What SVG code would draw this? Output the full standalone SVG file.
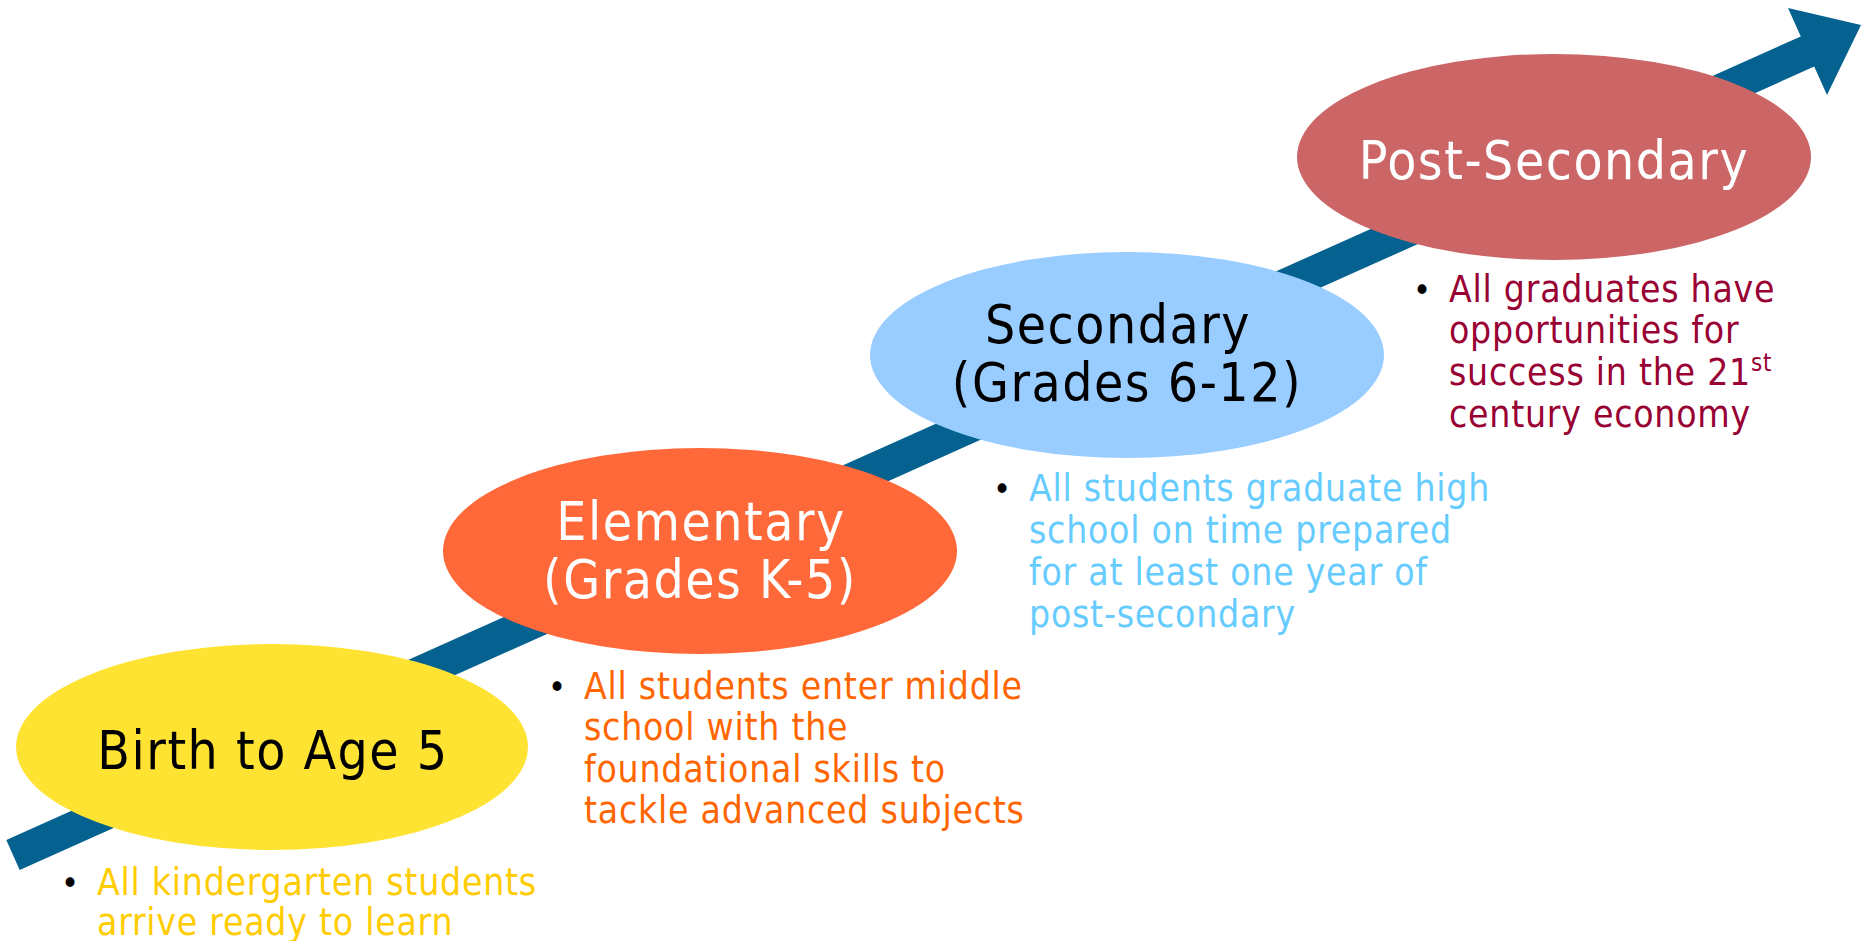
<svg xmlns="http://www.w3.org/2000/svg" width="1861" height="941" viewBox="0 0 1861 941">
<style>
text{font-family:"DejaVu Sans Condensed","DejaVu Sans",sans-serif;font-stretch:condensed}
.lbl{font-size:53px;letter-spacing:1.5px;text-anchor:middle}
.bul{font-size:37px;letter-spacing:0.75px}
.dot{font-size:34px;fill:#000}
</style>
<rect width="1861" height="941" fill="#fff"/>
<g id="connectors">
<polygon fill="#05618F" points="6.3,839.9 1800.8,36.4 1788,8 1861,25 1827,95 1814.2,66.6 19.7,870.1"/>
</g>
<g id="birth">
<ellipse cx="272" cy="747" rx="256" ry="103" fill="#FFE333"/>
<text class="lbl" x="273" y="769" fill="#000">Birth to Age 5</text>
<text class="dot" x="61" y="895">•</text>
<text class="bul" fill="#FFCC00"><tspan x="97" y="895">All kindergarten students</tspan><tspan x="97" y="935">arrive ready to learn</tspan></text>
</g>
<g id="elementary">
<ellipse cx="700" cy="551" rx="257" ry="103" fill="#FF6838"/>
<text class="lbl" fill="#fff"><tspan x="701" y="540">Elementary</tspan><tspan x="700" y="598">(Grades K-5)</tspan></text>
<text class="dot" x="548" y="699">•</text>
<text class="bul" fill="#FF6600"><tspan x="584" y="699">All students enter middle</tspan><tspan x="584" y="740">school with the</tspan><tspan x="584" y="782">foundational skills to</tspan><tspan x="584" y="823">tackle advanced subjects</tspan></text>
</g>
<g id="secondary">
<ellipse cx="1127" cy="355" rx="257" ry="103" fill="#99CCFF"/>
<text class="lbl" fill="#000"><tspan x="1118" y="343">Secondary</tspan><tspan x="1127" y="401">(Grades 6-12)</tspan></text>
<text class="dot" x="993" y="501">•</text>
<text class="bul" fill="#66CCFF"><tspan x="1029" y="501">All students graduate high</tspan><tspan x="1029" y="543">school on time prepared</tspan><tspan x="1029" y="585">for at least one year of</tspan><tspan x="1029" y="627">post-secondary</tspan></text>
</g>
<g id="postsecondary">
<ellipse cx="1554" cy="157" rx="257" ry="103" fill="#CC6666"/>
<text class="lbl" x="1554" y="179" fill="#fff">Post-Secondary</text>
<text class="dot" x="1413" y="302">•</text>
<text class="bul" fill="#990033"><tspan x="1449" y="302">All graduates have</tspan><tspan x="1449" y="343">opportunities for</tspan><tspan x="1449" y="385">success in the 21<tspan font-size="24px" dy="-14">st</tspan></tspan><tspan x="1449" y="427">century economy</tspan></text>
</g>
</svg>
